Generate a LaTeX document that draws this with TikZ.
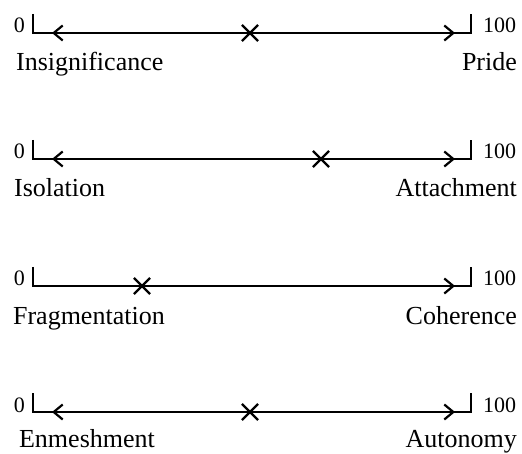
\documentclass[tikz,border=0pt]{standalone}
\usepackage{fontspec}
\setmainfont{Liberation Serif}
\usepackage{tikz}
\usetikzlibrary{arrows.meta,shapes.misc}
\newcommand{\numfont}{\fontsize{22}{26}\selectfont}
\newcommand{\polefont}{\fontsize{26}{31}\selectfont}

\begin{document}
\begin{tikzpicture}[x=1pt,y=-1pt,line width=2.2pt,>={Straight Barb[length=9pt,width=15pt]}]
    \tikzstyle{scale line}=[line cap=butt,line join=miter]
    \tikzstyle{rating}=[cross out,draw,line width=2.2pt,minimum size=14pt,inner sep=0pt]
    \tikzstyle{num}=[inner sep=0pt,font=\numfont]
    \tikzstyle{pole}=[inner sep=0pt,font=\polefont]
    \useasboundingbox (0,0) rectangle (522,454);
    % first scale
    \coordinate (lt1) at (33,14);
    \coordinate (lb1) at (33,33);
    \coordinate (rb1) at (471,33);
    \coordinate (rt1) at (471,14);
    \coordinate (la1) at (52,33);
    \coordinate (ra1) at (455,33);
    \draw[scale line] (lt1) -- (lb1) -- (rb1) -- (rt1);
    \draw[<->] (la1) -- (ra1);
    \node[rating] (x1) at (250,33) {};
    \node[num,anchor=base east] (zero1) at (26,33) {0};
    \node[num,anchor=base west] (top1) at (482,33) {100};
    \node[pole,anchor=base west] (low1) at (15,71) {Insignificance};
    \node[pole,anchor=base east] (high1) at (518,71) {Pride};
    % second scale
    \coordinate (lt2) at (33,140);
    \coordinate (lb2) at (33,159);
    \coordinate (rb2) at (471,159);
    \coordinate (rt2) at (471,140);
    \coordinate (la2) at (52,159);
    \coordinate (ra2) at (455,159);
    \draw[scale line] (lt2) -- (lb2) -- (rb2) -- (rt2);
    \draw[<->] (la2) -- (ra2);
    \node[rating] (x2) at (321,159) {};
    \node[num,anchor=base east] (zero2) at (26,159) {0};
    \node[num,anchor=base west] (top2) at (482,159) {100};
    \node[pole,anchor=base west] (low2) at (13,197) {Isolation};
    \node[pole,anchor=base east] (high2) at (518,197) {Attachment};
    % third scale
    \coordinate (lt3) at (33,267);
    \coordinate (lb3) at (33,286);
    \coordinate (rb3) at (471,286);
    \coordinate (rt3) at (471,267);
    \coordinate (la3) at (52,286);
    \coordinate (ra3) at (455,286);
    \draw[scale line] (lt3) -- (lb3) -- (rb3) -- (rt3);
    \draw[->] (la3) -- (ra3);
    \node[rating] (x3) at (142,286) {};
    \node[num,anchor=base east] (zero3) at (26,286) {0};
    \node[num,anchor=base west] (top3) at (482,286) {100};
    \node[pole,anchor=base west] (low3) at (12,324) {Fragmentation};
    \node[pole,anchor=base east] (high3) at (518,324) {Coherence};
    % fourth scale
    \coordinate (lt4) at (33,393);
    \coordinate (lb4) at (33,412);
    \coordinate (rb4) at (471,412);
    \coordinate (rt4) at (471,393);
    \coordinate (la4) at (52,412);
    \coordinate (ra4) at (455,412);
    \draw[scale line] (lt4) -- (lb4) -- (rb4) -- (rt4);
    \draw[<->] (la4) -- (ra4);
    \node[rating] (x4) at (250,412) {};
    \node[num,anchor=base east] (zero4) at (26,412) {0};
    \node[num,anchor=base west] (top4) at (482,412) {100};
    \node[pole,anchor=base west] (low4) at (18,447) {Enmeshment};
    \node[pole,anchor=base east] (high4) at (518,447) {Autonomy};
\end{tikzpicture}
\end{document}
